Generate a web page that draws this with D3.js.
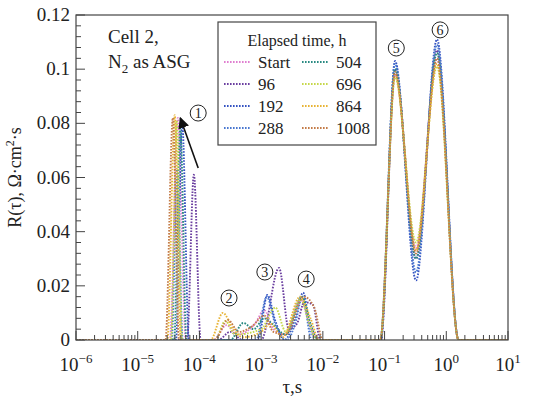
<!DOCTYPE html>
<html>
<head>
<meta charset="utf-8">
<script src="https://cdn.jsdelivr.net/npm/d3@7"></script>
<style>
  body { margin: 0; background: #fff; }
  svg { display: block; font-family: "Liberation Serif", "DejaVu Serif", serif; }
</style>
</head>
<body>
<div id="chart"></div>
<script>
// data: [log10(tau), R] per series
const labels = ['Start', '96', '192', '288', '504', '696', '864', '1008'];
const colors = ['#e07fd0', '#6b3fa0', '#3553c2', '#4a78d0', '#2a8a82', '#c6d84c', '#e8b436', '#c47c48'];

const sStart = [[-6,0],[-4.48,0],[-4.35,0.082],[-4.22,0],[-3.78,0],[-3.56,0.0055],[-3.38,0.002],[-3.1,0.006],[-2.95,0.011],[-2.8,0.004],[-2.62,0.002],[-2.36,0.015],[-2.2,0.005],[-2.05,0],[-1.07,0],[-0.83,0.098],[-0.49,0.034],[-0.15,0.104],[0.2,0],[1,0]];
const s96    = [[-6,0],[-4.2,0],[-4.09,0.061],[-3.98,0],[-3.7,0],[-3.5,0.003],[-3.3,0],[-3.0,0],[-2.71,0.0266],[-2.55,0.004],[-2.42,0.006],[-2.3,0.014],[-2.16,0.013],[-2.04,0],[-1.06,0],[-0.83,0.1],[-0.49,0.03],[-0.15,0.107],[0.2,0],[1,0]];
const s192   = [[-6,0],[-4.38,0],[-4.28,0.08],[-4.17,0],[-3.05,0],[-2.9,0.0166],[-2.77,0.007],[-2.62,0],[-2.45,0.008],[-2.32,0.0175],[-2.2,0.004],[-2.1,0],[-1.06,0],[-0.83,0.103],[-0.49,0.022],[-0.15,0.111],[0.2,0],[1,0]];
const s288   = [[-6,0],[-4.45,0],[-4.36,0.063],[-4.27,0],[-3.08,0],[-2.91,0.016],[-2.76,0.005],[-2.58,0],[-2.45,0.006],[-2.33,0.016],[-2.18,0],[-1.07,0],[-0.83,0.102],[-0.49,0.025],[-0.15,0.109],[0.2,0],[1,0]];
const s504   = [[-6,0],[-4.41,0],[-4.31,0.078],[-4.21,0],[-3.5,0],[-3.29,0.0063],[-3.12,0.004],[-2.95,0.008],[-2.82,0.006],[-2.6,0.002],[-2.34,0.016],[-2.2,0.006],[-2.08,0],[-1.07,0],[-0.83,0.1],[-0.49,0.03],[-0.15,0.106],[0.2,0],[1,0]];
const s696   = [[-6,0],[-4.46,0],[-4.37,0.081],[-4.28,0],[-3.75,0],[-3.58,0.007],[-3.42,0.002],[-3.0,0.004],[-2.77,0.012],[-2.6,0.003],[-2.36,0.015],[-2.22,0.006],[-2.1,0],[-1.07,0],[-0.83,0.097],[-0.49,0.036],[-0.15,0.101],[0.2,0],[1,0]];
const s864   = [[-6,0],[-4.52,0],[-4.4,0.083],[-4.3,0],[-3.82,0],[-3.62,0.01],[-3.45,0.004],[-3.3,0.001],[-3.0,0.003],[-2.85,0.006],[-2.65,0.001],[-2.37,0.016],[-2.2,0.008],[-2.06,0],[-1.07,0],[-0.83,0.098],[-0.49,0.033],[-0.15,0.102],[0.2,0],[1,0]];
const s1008  = [[-6,0],[-4.55,0],[-4.43,0.082],[-4.33,0],[-3.75,0],[-3.54,0.0074],[-3.36,0.003],[-3.15,0.005],[-2.95,0.009],[-2.8,0.003],[-2.6,0.002],[-2.31,0.016],[-2.14,0.012],[-2.0,0],[-1.07,0],[-0.83,0.099],[-0.49,0.032],[-0.15,0.104],[0.2,0],[1,0]];
const seriesData = [sStart, s96, s192, s288, s504, s696, s864, s1008];

const peakNames = ['1', '2', '3', '4', '5', '6'];
const peakPos = [[-4.02,0.0838],[-3.52,0.0155],[-2.94,0.0251],[-2.27,0.0225],[-0.81,0.1078],[-0.10,0.1145]];
const arrowFrom = [-4.02, 0.0635], arrowTo = [-4.31, 0.082];

const xTicks = [-6, -5, -4, -3, -2, -1, 0, 1];
const yTicks = [0, 0.02, 0.04, 0.06, 0.08, 0.1, 0.12];
const yTickText = ['0', '0.02', '0.04', '0.06', '0.08', '0.1', '0.12'];

const W = 550, H = 399;
const m = { l: 76, r: 42, t: 15, b: 59 };
const svg = d3.select('#chart').append('svg').attr('width', W).attr('height', H);

const x = d3.scaleLog().domain([1e-6, 10]).range([m.l, W - m.r]);
const y = d3.scaleLinear().domain([0, 0.12]).range([H - m.b, m.t]);
const ink = '#222';

// curves
const line = d3.line().x(d => x(Math.pow(10, d[0]))).y(d => y(d[1])).curve(d3.curveMonotoneX);
const clip = svg.append('clipPath').attr('id', 'c').append('rect')
  .attr('x', m.l).attr('y', m.t - 5).attr('width', W - m.r - m.l).attr('height', H - m.b - m.t + 5);
const plot = svg.append('g').attr('clip-path', 'url(#c)');
seriesData.forEach((s, i) => {
  plot.append('path').attr('d', line(s)).attr('fill', 'none')
    .attr('stroke', colors[i]).attr('stroke-width', 1.9).attr('stroke-dasharray', '1.6,1.4');
});

// frame
svg.append('rect').attr('x', m.l).attr('y', m.t).attr('width', W - m.r - m.l).attr('height', H - m.b - m.t)
  .attr('fill', 'none').attr('stroke', '#444').attr('stroke-width', 1.2);

// y ticks (inward)
const yMinor = d3.range(0, 0.1201, 0.004);
svg.append('g').selectAll('line').data(yMinor).join('line')
  .attr('x1', m.l).attr('x2', (d, i) => m.l + (i % 5 === 0 ? 9 : 5))
  .attr('y1', d => y(d)).attr('y2', d => y(d)).attr('stroke', '#444').attr('stroke-width', 1);
svg.append('g').selectAll('text').data(yTicks).join('text')
  .attr('x', m.l - 6).attr('y', d => y(d) + 6).attr('text-anchor', 'end')
  .attr('font-size', 19).attr('fill', ink).text((d, i) => yTickText[i]);

// x ticks (inward, log minor)
const xMinor = [];
xTicks.forEach(e => { if (e < 1) for (let k = 1; k <= 9; k++) xMinor.push([k * Math.pow(10, e), k === 1]); });
xMinor.push([10, true]);
svg.append('g').selectAll('line').data(xMinor).join('line')
  .attr('x1', d => x(d[0])).attr('x2', d => x(d[0]))
  .attr('y1', y(0)).attr('y2', d => y(0) - (d[1] ? 9 : 5)).attr('stroke', '#444').attr('stroke-width', 1);
const xl = svg.append('g').selectAll('text').data(xTicks).join('text')
  .attr('x', d => x(Math.pow(10, d))).attr('y', 371).attr('text-anchor', 'middle')
  .attr('font-size', 19).attr('fill', ink);
xl.append('tspan').text('10');
xl.append('tspan').attr('dy', -8).attr('font-size', 13).text(d => d < 0 ? '\u2212' + (-d) : d);

// axis titles
svg.append('text').attr('x', x(3.2e-3)).attr('y', 393).attr('text-anchor', 'middle')
  .attr('font-size', 19).attr('fill', ink).text('τ,s');
const yt = svg.append('text').attr('transform', `translate(21,${(m.t + H - m.b) / 2}) rotate(-90)`)
  .attr('text-anchor', 'middle').attr('font-size', 18).attr('fill', ink);
yt.append('tspan').text('R(τ), Ω·cm');
yt.append('tspan').attr('dy', -7).attr('font-size', 12).text('2');
yt.append('tspan').attr('dy', 7).text('·s');

// cell caption
svg.append('text').attr('x', 108).attr('y', 43).attr('font-size', 19).attr('fill', ink).text('Cell 2,');
const cap = svg.append('text').attr('x', 108).attr('y', 68).attr('font-size', 19).attr('fill', ink);
cap.append('tspan').text('N');
cap.append('tspan').attr('dy', 5).attr('font-size', 13).text('2');
cap.append('tspan').attr('dy', -5).text(' as ASG');

// legend
const lg = svg.append('g');
lg.append('rect').attr('x', 218).attr('y', 22).attr('width', 158).attr('height', 123)
  .attr('fill', '#fff').attr('stroke', '#444').attr('stroke-width', 1.2);
lg.append('text').attr('x', 297).attr('y', 46).attr('text-anchor', 'middle')
  .attr('font-size', 16).attr('fill', ink).text('Elapsed time, h');
labels.forEach((name, i) => {
  const col = Math.floor(i / 4), row = i % 4;
  const lx = 224 + col * 78, ly = 62 + row * 22;
  lg.append('line').attr('x1', lx).attr('x2', lx + 26).attr('y1', ly).attr('y2', ly)
    .attr('stroke', colors[i]).attr('stroke-width', 1.9).attr('stroke-dasharray', '1.6,1.4');
  lg.append('text').attr('x', lx + 34).attr('y', ly + 6).attr('font-size', 17).attr('fill', ink).text(name);
});

// arrow for peak 1
svg.append('defs').append('marker').attr('id', 'ah').attr('viewBox', '0 0 10 10')
  .attr('refX', 9).attr('refY', 5).attr('markerWidth', 7).attr('markerHeight', 7).attr('orient', 'auto')
  .append('path').attr('d', 'M0,0 L10,5 L0,10 z').attr('fill', '#111');
svg.append('line')
  .attr('x1', x(Math.pow(10, arrowFrom[0]))).attr('y1', y(arrowFrom[1]))
  .attr('x2', x(Math.pow(10, arrowTo[0]))).attr('y2', y(arrowTo[1]))
  .attr('stroke', '#111').attr('stroke-width', 1.6).attr('marker-end', 'url(#ah)');

// peak numbers
const pk = svg.append('g').selectAll('g').data(peakPos).join('g')
  .attr('transform', d => `translate(${x(Math.pow(10, d[0]))},${y(d[1])})`);
pk.append('circle').attr('r', 8).attr('fill', '#fff').attr('stroke', '#222').attr('stroke-width', 1);
pk.append('text').attr('y', 5).attr('text-anchor', 'middle').attr('font-size', 14).attr('fill', ink)
  .text((d, i) => peakNames[i]);
</script>
</body>
</html>
